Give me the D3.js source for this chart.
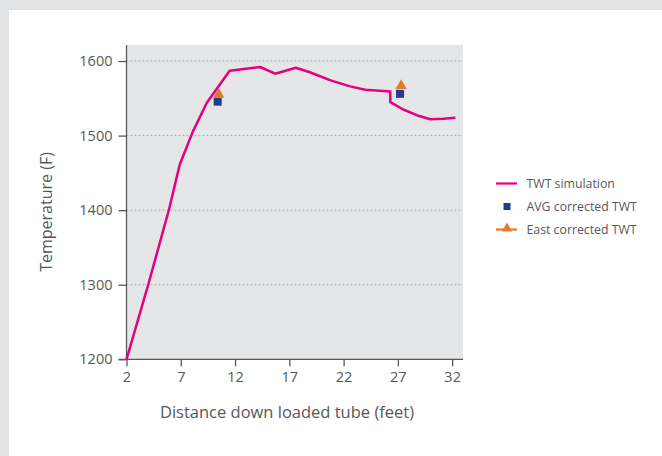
<!DOCTYPE html>
<html><head><meta charset="utf-8">
<script src="https://cdn.jsdelivr.net/npm/d3@7"></script>
<style>
html,body{margin:0;padding:0;background:#e2e3e5;}
svg{display:block;}
text{font-family:"Open Sans",sans-serif;fill:#58585a;}
</style></head>
<body>
<script>
// Data
const simX = [2, 4.0, 5.9, 6.9, 8.1, 9.4, 11.5, 14.3, 15.7, 17.6, 18.9, 20.8, 22.6, 24.0, 26.3, 26.3, 27.5, 28.8, 30.0, 31.2, 32.3];
const simY = [1200, 1300, 1400, 1461, 1505, 1544, 1587, 1592, 1583, 1591, 1585, 1574, 1566, 1561.5, 1559, 1545, 1535, 1527, 1522, 1522.5, 1524];
const avgX = [10.4, 27.2];
const avgY = [1545.5, 1556];
const eastX = [10.5, 27.3];
const eastY = [1555, 1567];
const xTicks = [2, 7, 12, 17, 22, 27, 32];
const yTicks = [1200, 1300, 1400, 1500, 1600];
const seriesNames = ["TWT simulation", "AVG corrected TWT", "East corrected TWT"];
const colors = {sim: "#e6007e", avg: "#253a94", east: "#e07b2a"};

const W = 662, H = 456;
const svg = d3.select("body").append("svg").attr("width", W).attr("height", H);
svg.append("rect").attr("x", 9).attr("y", 10).attr("width", W - 9).attr("height", H - 10).attr("fill", "#ffffff");

const m = {left: 126.5, top: 45, right: 463, bottom: 359.3};
const x = d3.scaleLinear().domain([2, 33]).range([m.left, m.right]);
const y = d3.scaleLinear().domain([1200, 1621.5]).range([m.bottom, m.top]);

svg.append("rect").attr("x", m.left).attr("y", m.top).attr("width", m.right - m.left).attr("height", m.bottom - m.top).attr("fill", "#e5e6e8");

// gridlines
svg.append("g").selectAll("line").data(yTicks.filter(d => d > 1200)).join("line")
  .attr("x1", m.left).attr("x2", m.right).attr("y1", d => y(d)).attr("y2", d => y(d))
  .attr("stroke", "#a9aaac").attr("stroke-width", 1).attr("stroke-dasharray", "2,2");

// axes
const xAxis = svg.append("g").attr("transform", `translate(0,${m.bottom})`)
  .call(d3.axisBottom(x).tickValues(xTicks).tickFormat(d3.format("d")).tickSize(7).tickSizeOuter(0).tickPadding(5));
const yAxis = svg.append("g").attr("transform", `translate(${m.left},0)`)
  .call(d3.axisLeft(y).tickValues(yTicks).tickFormat(d3.format("d")).tickSize(8).tickSizeOuter(0).tickPadding(6));
[xAxis, yAxis].forEach(g => {
  g.select(".domain").attr("stroke", "#58585a").attr("stroke-width", 1.3);
  g.selectAll(".tick line").attr("stroke", "#58585a").attr("stroke-width", 1.3);
  g.selectAll(".tick text").attr("font-size", 14.5).attr("font-family", "Open Sans").attr("fill", "#58585a");
});
yAxis.select(".domain").attr("d", `M0,${m.top}V${m.bottom}`);
xAxis.select(".domain").attr("d", `M${m.left - 8},0H${m.right}`);

// line
const pts = simX.map((v, i) => [v, simY[i]]);
svg.append("path").datum(pts)
  .attr("d", d3.line().x(d => x(d[0])).y(d => y(d[1])))
  .attr("fill", "none").attr("stroke", colors.sim).attr("stroke-width", 2.5).attr("stroke-linejoin", "round");

// markers
svg.append("g").selectAll("rect").data(avgX.map((v, i) => [v, avgY[i]])).join("rect")
  .attr("x", d => x(d[0]) - 4).attr("y", d => y(d[1]) - 4).attr("width", 8).attr("height", 8)
  .attr("fill", colors.avg);
svg.append("g").selectAll("path").data(eastX.map((v, i) => [v, eastY[i]])).join("path")
  .attr("transform", d => `translate(${x(d[0])},${y(d[1])})`)
  .attr("d", d3.symbol(d3.symbolTriangle, 55)).attr("fill", colors.east);

// axis titles
svg.append("text").attr("x", 287).attr("y", 418).attr("text-anchor", "middle")
  .attr("font-size", 16.5).text("Distance down loaded tube (feet)");
svg.append("text").attr("transform", "translate(52,212) rotate(-90)").attr("text-anchor", "middle")
  .attr("font-size", 16).text("Temperature (F)");

// legend
const lg = svg.append("g");
const ly = [183.5, 206.5, 229.5];
lg.append("line").attr("x1", 496).attr("x2", 517).attr("y1", ly[0]).attr("y2", ly[0]).attr("stroke", colors.sim).attr("stroke-width", 2.2);
lg.append("rect").attr("x", 507 - 3.5).attr("y", ly[1] - 3.5).attr("width", 7).attr("height", 7).attr("fill", colors.avg);
lg.append("line").attr("x1", 496).attr("x2", 517).attr("y1", ly[2]).attr("y2", ly[2]).attr("stroke", colors.east).attr("stroke-width", 2.2);
lg.append("path").attr("transform", `translate(507,${ly[2] - 1})`).attr("d", d3.symbol(d3.symbolTriangle, 45)).attr("fill", colors.east);
lg.selectAll("text").data(seriesNames).join("text")
  .attr("x", 526.5).attr("y", (d, i) => ly[i]).attr("dy", "0.35em")
  .attr("font-size", 12.3).text(d => d);
</script>
</body></html>
